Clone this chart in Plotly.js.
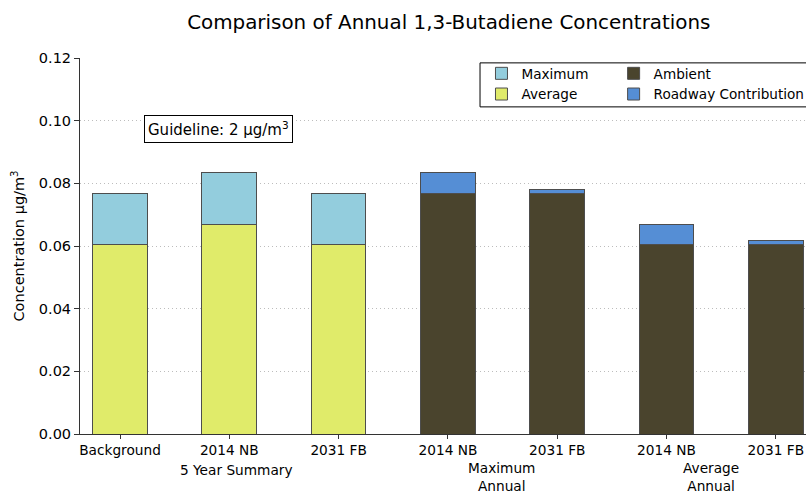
<!DOCTYPE html>
<html>
<head>
<meta charset="utf-8">
<script src="https://cdn.plot.ly/plotly-3.0.1.min.js"></script>
<style>html,body{margin:0;padding:0;background:#fff;}#chart{width:806px;height:493px;}</style>
</head>
<body>
<div id="chart"></div>
<script>
// Category positions and tick labels
const positions = [0, 1, 2, 3, 4, 5, 6];
const tickLabels = ["Background", "2014 NB", "2031 FB", "2014 NB", "2031 FB", "2014 NB", "2031 FB"];

// 5 Year Summary (first three bars)
const summaryX = [0, 1, 2];
const summaryAverage = [0.0606, 0.0670, 0.0606];
const summaryMaximum = [0.0767, 0.0833, 0.0767];

// Maximum Annual and Average Annual (last four bars)
const annualX = [3, 4, 5, 6];
const annualAmbient = [0.0767, 0.0767, 0.0606, 0.0606];
const annualRoadway = [0.0066, 0.0012, 0.0064, 0.0010];

const summaryMaxIncrement = summaryMaximum.map((v, i) => v - summaryAverage[i]);

const edge = {color: '#4d4d4d', width: 1};
const traces = [
  {type: 'bar', name: 'Average', x: summaryX, y: summaryAverage, width: 0.5,
   marker: {color: '#e0eb6a', line: edge}, legend: 'legend'},
  {type: 'bar', name: 'Maximum', x: summaryX, y: summaryMaxIncrement, width: 0.5,
   marker: {color: '#93cddd', line: edge}, legend: 'legend'},
  {type: 'bar', name: 'Ambient', x: annualX, y: annualAmbient, width: 0.5,
   marker: {color: '#4a442d', line: edge}, legend: 'legend2'},
  {type: 'bar', name: 'Roadway Contribution', x: annualX, y: annualRoadway, width: 0.5,
   marker: {color: '#558ed5', line: edge}, legend: 'legend2'}
];

const font = {family: 'DejaVu Sans', size: 13.7, color: '#000'};
const legendCommon = {
  orientation: 'v', xanchor: 'left', yanchor: 'top', bgcolor: 'rgba(0,0,0,0)',
  borderwidth: 0, font: {family: 'DejaVu Sans', size: 13.6, color: '#000'},
  tracegroupgap: 0, itemwidth: 30
};

const layout = {
  width: 806, height: 493,
  margin: {l: 80, r: 0, t: 58, b: 59, autoexpand: false},
  paper_bgcolor: '#fff', plot_bgcolor: '#fff',
  font: font,
  barmode: 'stack',
  showlegend: true,
  title: {text: 'Comparison of Annual 1,3-Butadiene Concentrations',
          font: {family: 'DejaVu Sans', size: 19.9, color: '#000'},
          x: 0.508, xref: 'paper', y: 0.955, yanchor: 'middle'},
  xaxis: {
    range: [-0.366, 6.276], tickmode: 'array', tickvals: positions, ticktext: tickLabels,
    showgrid: false, zeroline: false, showline: true, linecolor: '#333', linewidth: 1,
    ticks: 'outside', ticklen: 4, tickcolor: '#333', tickfont: font, tickangle: 0,
    automargin: false, fixedrange: true
  },
  yaxis: {
    range: [0, 0.12], dtick: 0.02, tickformat: '.2f',
    showgrid: true, gridcolor: '#bdbdbd', griddash: '1px,3px', gridwidth: 1,
    zeroline: false, showline: true, linecolor: '#333', linewidth: 1,
    ticks: 'outside', ticklen: 5, tickcolor: '#333',
    tickfont: {family: 'DejaVu Sans', size: 14.5, color: '#000'},
    title: {text: 'Concentration µg/m<sup>3</sup>', font: {family: 'DejaVu Sans', size: 14.5, color: '#000'}, standoff: 10},
    automargin: false, fixedrange: true
  },
  legend: Object.assign({}, legendCommon, {x: 0.553, y: 1.0, traceorder: 'reversed'}),
  legend2: Object.assign({}, legendCommon, {x: 0.735, y: 1.0, traceorder: 'normal'}),
  shapes: [{type: 'rect', xref: 'paper', yref: 'paper', x0: 0.551, x1: 1.01, y0: 0.870, y1: 0.987,
            line: {color: '#000', width: 1}, fillcolor: 'rgba(0,0,0,0)', layer: 'above'}],
  annotations: [
    {text: 'Guideline: 2 µg/m<sup>3</sup>', x: 0.897, y: 0.0973, xref: 'x', yref: 'y',
     showarrow: false, bordercolor: '#000', borderwidth: 1, borderpad: 3, bgcolor: '#fff',
     font: {family: 'DejaVu Sans', size: 15, color: '#000'}},
    {text: '5 Year Summary', x: 1.07, xref: 'x', y: -0.095, yref: 'paper', yanchor: 'middle',
     showarrow: false, font: font},
    {text: 'Maximum<br>Annual', x: 3.49, xref: 'x', y: -0.115, yref: 'paper', yanchor: 'middle',
     showarrow: false, align: 'center', font: font},
    {text: 'Average<br>Annual', x: 5.41, xref: 'x', y: -0.115, yref: 'paper', yanchor: 'middle',
     showarrow: false, align: 'center', font: font}
  ]
};

Plotly.newPlot('chart', traces, layout, {displayModeBar: false, staticPlot: true});
</script>
</body>
</html>
